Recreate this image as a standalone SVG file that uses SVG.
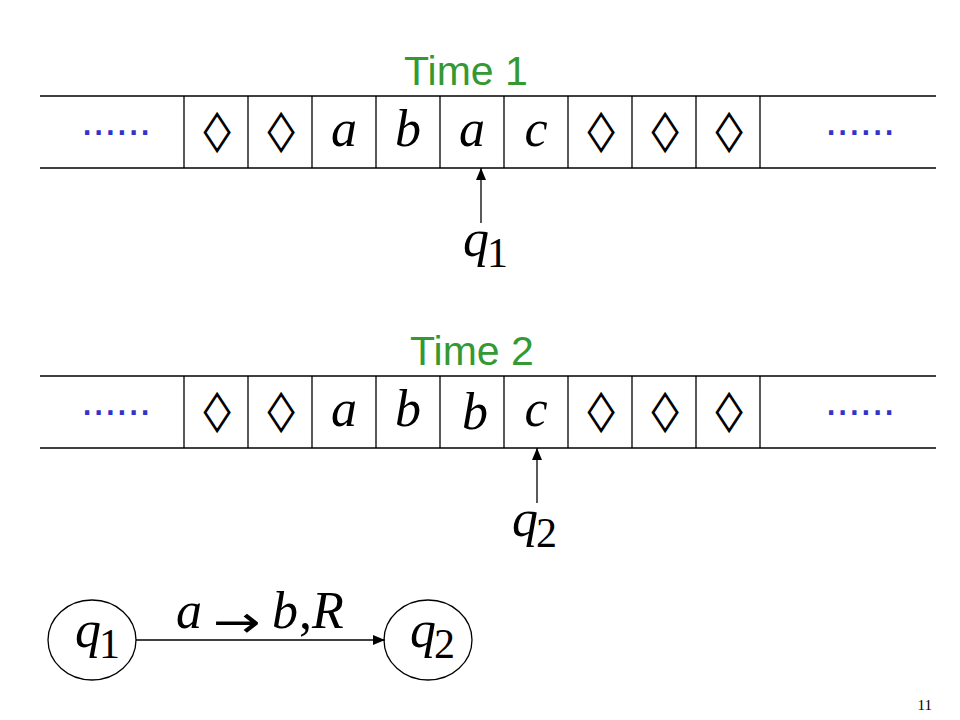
<svg xmlns="http://www.w3.org/2000/svg" width="960" height="720" viewBox="0 0 960 720">
<defs>
<style>
.ln{stroke:#000;stroke-width:1.3;fill:none}
.sym{font-family:"Liberation Serif","Times New Roman",serif;font-size:52px;text-anchor:middle;fill:#000}
.dia{font-family:"DejaVu Sans",sans-serif;font-size:40px;text-anchor:middle;fill:#000}
.it{font-style:italic}
.dz{font-family:"Liberation Sans",sans-serif;font-size:44px;fill:#3333cc;letter-spacing:-0.6px}
.ttl{font-family:"Liberation Sans",sans-serif;font-size:41px;fill:#339933}
.st{font-family:"Liberation Serif","Times New Roman",serif;font-size:52px;fill:#000}
.sub{font-size:42px;font-style:normal}
</style>
<marker id="ah" viewBox="0 0 12 10" refX="12" refY="5" markerWidth="12" markerHeight="10" markerUnits="userSpaceOnUse" orient="auto">
<path d="M0,0 L12,5 L0,10 z" fill="#000"/>
</marker>
</defs>
<rect width="960" height="720" fill="#fff"/>

<g id="time1">
<text class="ttl" x="404" y="85">Time 1</text>
</g>
<g id="tape1">
<line class="ln" x1="40" y1="96" x2="936" y2="96"/>
<line class="ln" x1="40" y1="168" x2="936" y2="168"/>
<path class="ln" d="M184,96V168M248,96V168M312,96V168M376,96V168M440,96V168M504,96V168M568,96V168M632,96V168M696,96V168M760,96V168"/>
<text class="dz" x="81" y="135">......</text>
<text class="dz" x="825" y="135">......</text>
<text class="dia" transform="translate(217,144) scale(1.4,1)">◊</text>
<text class="dia" transform="translate(281,144) scale(1.4,1)">◊</text>
<text class="sym it" x="344" y="146">a</text>
<text class="sym it" x="408" y="146">b</text>
<text class="sym it" x="472" y="146">a</text>
<text class="sym it" x="536" y="146">c</text>
<text class="dia" transform="translate(601,144) scale(1.4,1)">◊</text>
<text class="dia" transform="translate(665,144) scale(1.4,1)">◊</text>
<text class="dia" transform="translate(729,144) scale(1.4,1)">◊</text>
</g>
<g id="head1">
<text class="st it" x="463" y="256">q<tspan class="sub" dx="-2" dy="11">1</tspan></text>
</g>

<g id="time2">
<text class="ttl" x="410" y="365">Time 2</text>
</g>
<g id="tape2">
<line class="ln" x1="40" y1="376" x2="936" y2="376"/>
<line class="ln" x1="40" y1="448" x2="936" y2="448"/>
<path class="ln" d="M184,376V448M248,376V448M312,376V448M376,376V448M440,376V448M504,376V448M568,376V448M632,376V448M696,376V448M760,376V448"/>
<text class="dz" x="81" y="415">......</text>
<text class="dz" x="825" y="415">......</text>
<text class="dia" transform="translate(217,424) scale(1.4,1)">◊</text>
<text class="dia" transform="translate(281,424) scale(1.4,1)">◊</text>
<text class="sym it" x="344" y="426">a</text>
<text class="sym it" x="408" y="426">b</text>
<text class="sym it" x="475" y="429">b</text>
<text class="sym it" x="536" y="426">c</text>
<text class="dia" transform="translate(601,424) scale(1.4,1)">◊</text>
<text class="dia" transform="translate(665,424) scale(1.4,1)">◊</text>
<text class="dia" transform="translate(729,424) scale(1.4,1)">◊</text>
</g>
<g id="head2">
<text class="st it" x="512" y="536">q<tspan class="sub" dx="-2" dy="11">2</tspan></text>
</g>

<g id="state_q1">
<ellipse class="ln" cx="92" cy="640" rx="44" ry="40"/>
<text class="st it" x="75" y="647">q<tspan class="sub" dx="-2" dy="11">1</tspan></text>
</g>
<g id="state_q2">
<ellipse class="ln" cx="428" cy="640" rx="44" ry="40"/>
<text class="st it" x="410" y="647">q<tspan class="sub" dx="-2" dy="11">2</tspan></text>
</g>

<g id="connectors">
<line class="ln" x1="481" y1="223" x2="481" y2="168" marker-end="url(#ah)"/>
<line class="ln" x1="537" y1="503" x2="537" y2="448" marker-end="url(#ah)"/>
<line class="ln" x1="136" y1="640" x2="385" y2="640" marker-end="url(#ah)"/>
</g>
<g id="edge_label">
<text class="st it" x="176" y="628">a</text>
<text x="236.5" y="637" font-size="44" text-anchor="middle" font-family="DejaVu Sans,sans-serif" transform="translate(236.5,0) scale(1.3,1) translate(-236.5,0)">→</text>
<text class="st it" x="272" y="628">b</text>
<text class="st" x="299" y="628">,</text>
<text class="st it" x="312" y="628">R</text>
</g>

<text x="932" y="710" font-family="Liberation Serif,serif" font-size="15" text-anchor="end">11</text>
</svg>
